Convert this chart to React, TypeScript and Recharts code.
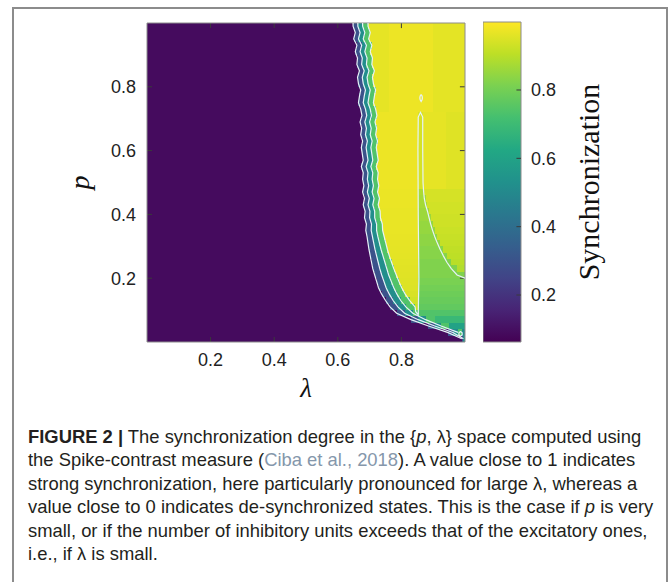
import React from "react";
import {
  ScatterChart,
  Scatter,
  XAxis,
  YAxis,
  ReferenceArea,
  ReferenceLine,
  Label,
} from "recharts";

// heatmap rows (lower edge of each p-row, height 0.02), top to bottom
const P_ROWS = [
  0.98, 0.96, 0.94, 0.92, 0.9, 0.88, 0.86, 0.84, 0.82, 0.8,
  0.78, 0.76, 0.74, 0.72, 0.7, 0.68, 0.66, 0.64, 0.62, 0.6,
  0.58, 0.56, 0.54, 0.52, 0.5, 0.48, 0.46, 0.44, 0.42, 0.4,
  0.38, 0.36, 0.34, 0.32, 0.3, 0.28, 0.26, 0.24, 0.22, 0.2,
  0.18, 0.16, 0.14, 0.12, 0.1, 0.08, 0.06, 0.04, 0.02, 0.0,
];

// lambda where each row leaves the de-synchronized region (outer contour)
const EDGE_1 = [
  0.648, 0.655, 0.65, 0.66, 0.655, 0.662, 0.66, 0.668, 0.662, 0.665,
  0.672, 0.668, 0.665, 0.672, 0.676, 0.67, 0.675, 0.672, 0.678, 0.674,
  0.677, 0.68, 0.674, 0.68, 0.678, 0.682, 0.678, 0.684, 0.68, 0.686,
  0.684, 0.69, 0.688, 0.692, 0.695, 0.698, 0.702, 0.706, 0.71, 0.716,
  0.722, 0.728, 0.738, 0.75, 0.764, 0.785, 0.83, 0.885, 0.945, 0.99,
];
const EDGE_2 = [
  0.663, 0.67, 0.665, 0.675, 0.67, 0.677, 0.675, 0.683, 0.677, 0.68,
  0.687, 0.683, 0.68, 0.687, 0.691, 0.685, 0.69, 0.687, 0.693, 0.689,
  0.692, 0.695, 0.689, 0.695, 0.693, 0.697, 0.693, 0.699, 0.695, 0.701,
  0.7, 0.706, 0.705, 0.709, 0.713, 0.717, 0.722, 0.727, 0.732, 0.738,
  0.745, 0.752, 0.762, 0.774, 0.789, 0.81, 0.853, 0.905, 0.962, 0.995,
];
const EDGE_3 = [
  0.678, 0.685, 0.68, 0.69, 0.685, 0.692, 0.69, 0.698, 0.692, 0.695,
  0.702, 0.698, 0.695, 0.702, 0.706, 0.7, 0.705, 0.702, 0.708, 0.704,
  0.707, 0.71, 0.704, 0.71, 0.708, 0.712, 0.708, 0.714, 0.71, 0.716,
  0.716, 0.722, 0.722, 0.726, 0.731, 0.736, 0.742, 0.748, 0.754, 0.76,
  0.768, 0.776, 0.786, 0.798, 0.814, 0.836, 0.876, 0.925, 0.978, 1.0,
];
// start of the strongly synchronized (yellow) zone
const EDGE_4 = [
  0.695, 0.702, 0.697, 0.707, 0.702, 0.709, 0.707, 0.715, 0.709, 0.712,
  0.719, 0.715, 0.712, 0.719, 0.723, 0.717, 0.722, 0.719, 0.725, 0.721,
  0.724, 0.727, 0.721, 0.727, 0.725, 0.729, 0.725, 0.731, 0.727, 0.733,
  0.734, 0.74, 0.741, 0.746, 0.751, 0.756, 0.762, 0.769, 0.776, 0.784,
  0.792, 0.801, 0.812, 0.826, 0.843, 0.866, 0.905, 0.95, 0.992, 1.0,
];
// value in background, and between edges 1-2, 2-3, 3-4
const BAND_VALUES = [0.09, 0.3, 0.52, 0.74];

// [lambda end, value] segments right of EDGE_4
const TOP_TAIL: [number, number][] = [[0.76, 0.965], [0.9, 0.975], [1, 0.962]];
const STRIPE_TAIL: [number, number][] = [[0.853, 0.975], [0.867, 0.94], [0.94, 0.965], [1, 0.955]];
const TAILS: [number, number][][] = [
  TOP_TAIL, TOP_TAIL, TOP_TAIL, TOP_TAIL, TOP_TAIL, TOP_TAIL, TOP_TAIL,
  TOP_TAIL, TOP_TAIL, TOP_TAIL, TOP_TAIL, TOP_TAIL, TOP_TAIL, TOP_TAIL,
  STRIPE_TAIL, STRIPE_TAIL, STRIPE_TAIL, STRIPE_TAIL, STRIPE_TAIL, STRIPE_TAIL,
  STRIPE_TAIL, STRIPE_TAIL, STRIPE_TAIL, STRIPE_TAIL, STRIPE_TAIL, STRIPE_TAIL,
  [[0.853, 0.972], [0.872, 0.88], [1, 0.94]],
  [[0.853, 0.972], [0.876, 0.87], [1, 0.94]],
  [[0.853, 0.972], [0.882, 0.87], [1, 0.935]],
  [[0.853, 0.97], [0.887, 0.86], [1, 0.935]],
  [[0.853, 0.97], [0.892, 0.86], [1, 0.93]],
  [[0.853, 0.97], [0.898, 0.85], [1, 0.93]],
  [[0.853, 0.97], [0.905, 0.85], [1, 0.925]],
  [[0.853, 0.968], [0.913, 0.84], [1, 0.92]],
  [[0.853, 0.966], [0.922, 0.84], [1, 0.915]],
  [[0.853, 0.964], [0.932, 0.83], [1, 0.91]],
  [[0.853, 0.962], [0.943, 0.83], [1, 0.905]],
  [[0.853, 0.96], [0.957, 0.82], [1, 0.9]],
  [[0.853, 0.958], [0.975, 0.82], [1, 0.89]],
  [[0.853, 0.956], [1, 0.82]],
  [[0.853, 0.954], [1, 0.81]],
  [[0.853, 0.95], [1, 0.8]],
  [[0.853, 0.945], [1, 0.79]],
  [[0.853, 0.935], [1, 0.78]],
  [[0.853, 0.92], [1, 0.77]],
  [[1, 0.74]],
  [[1, 0.69]],
  [[1, 0.6]],
  [[1, 0.5]],
  [],
];

// inner contour around the yellow zone: stripe at lambda ~0.86 and right edge
const STRIPE_LOOP = [
  { x: 0.845, y: 0.095 }, { x: 0.853, y: 0.085 }, { x: 0.855, y: 0.2 },
  { x: 0.853, y: 0.4 }, { x: 0.852, y: 0.6 }, { x: 0.853, y: 0.705 },
  { x: 0.86, y: 0.72 }, { x: 0.867, y: 0.705 }, { x: 0.867, y: 0.6 },
  { x: 0.868, y: 0.5 }, { x: 0.87, y: 0.47 }, { x: 0.872, y: 0.45 },
  { x: 0.876, y: 0.43 }, { x: 0.882, y: 0.41 }, { x: 0.887, y: 0.39 },
  { x: 0.892, y: 0.37 }, { x: 0.898, y: 0.35 }, { x: 0.905, y: 0.33 },
  { x: 0.913, y: 0.31 }, { x: 0.922, y: 0.29 }, { x: 0.932, y: 0.27 },
  { x: 0.943, y: 0.25 }, { x: 0.957, y: 0.23 }, { x: 0.975, y: 0.21 },
  { x: 1.0, y: 0.2 },
];
const SPOT_1 = [
  { x: 0.862, y: 0.776 }, { x: 0.865, y: 0.771 }, { x: 0.866, y: 0.765 },
  { x: 0.865, y: 0.759 }, { x: 0.862, y: 0.754 }, { x: 0.859, y: 0.759 },
  { x: 0.858, y: 0.765 }, { x: 0.859, y: 0.771 }, { x: 0.862, y: 0.776 },
];
const SPOT_2 = [
  { x: 0.986, y: 0.033 }, { x: 0.991, y: 0.029 }, { x: 0.991, y: 0.022 },
  { x: 0.986, y: 0.018 }, { x: 0.981, y: 0.022 }, { x: 0.981, y: 0.029 },
  { x: 0.986, y: 0.033 },
];

const AXIS_TICKS = [0.2, 0.4, 0.6, 0.8];
const CBAR_TICKS = [0.2, 0.4, 0.6, 0.8];
const C_MIN = 0.0625;
const C_MAX = 0.999;

const VIRIDIS = [
  "#440154", "#482475", "#414487", "#355f8d", "#2a788e", "#21918c",
  "#22a884", "#44bf70", "#7ad151", "#bddf26", "#fde725",
];

function hexToRgb(h: string) {
  return [1, 3, 5].map((i) => parseInt(h.slice(i, i + 2), 16));
}

function viridis(v: number) {
  let t = (v - C_MIN) / (C_MAX - C_MIN);
  t = Math.max(0, Math.min(1, t));
  const pos = t * (VIRIDIS.length - 1);
  const i = Math.min(Math.floor(pos), VIRIDIS.length - 2);
  const f = pos - i;
  const a = hexToRgb(VIRIDIS[i]);
  const b = hexToRgb(VIRIDIS[i + 1]);
  const c = a.map((av, k) => Math.round(av + (b[k] - av) * f));
  return `rgb(${c[0]},${c[1]},${c[2]})`;
}

function buildCells() {
  const cells: { x1: number; x2: number; y1: number; y2: number; fill: string }[] = [];
  P_ROWS.forEach((p0, i) => {
    const segs: [number, number][] = [
      [EDGE_2[i], BAND_VALUES[1]],
      [EDGE_3[i], BAND_VALUES[2]],
      [EDGE_4[i], BAND_VALUES[3]],
      ...TAILS[i],
    ];
    let start = EDGE_1[i];
    segs.forEach(([end, v]) => {
      if (end > start) {
        cells.push({ x1: start, x2: end, y1: p0, y2: p0 + 0.02, fill: viridis(v) });
        start = end;
      }
    });
  });
  return cells;
}

const rowPoints = (edge: number[]) =>
  P_ROWS.map((p0, i) => ({ x: edge[i], y: p0 + 0.01 }));

const CONTOURS = [
  [{ x: EDGE_1[0], y: 1 }, ...rowPoints(EDGE_1)],
  [{ x: EDGE_2[0], y: 1 }, ...rowPoints(EDGE_2)],
  [{ x: EDGE_3[0], y: 1 }, ...rowPoints(EDGE_3).filter((d) => d.x < 1)],
  [{ x: EDGE_4[0], y: 1 }, ...rowPoints(EDGE_4).slice(0, 45), ...STRIPE_LOOP],
  SPOT_1,
  SPOT_2,
];

const NoDot = () => <g />;
const TICK_LEN = 0.016;
const FRAME = "#8c8c8c";
const TICK_COLOR = "#3a3a3a";
const TEXT = "#222";
const SANS = "'Liberation Sans', Arial, sans-serif";
const SERIF = "'Liberation Serif', 'Times New Roman', serif";

function HeatmapChart() {
  const cells = buildCells();
  return (
    <ScatterChart width={480} height={420} margin={{ top: 23, right: 15, bottom: 48, left: 67 }}>
      <XAxis
        type="number"
        dataKey="x"
        domain={[0, 1]}
        ticks={AXIS_TICKS}
        allowDataOverflow
        axisLine={false}
        tickLine={false}
        tickSize={0}
        tickMargin={11}
        height={30}
        tick={{ fontSize: 18, fill: TEXT, fontFamily: SANS }}
      >
        <Label value="λ" position="bottom" offset={6} style={{ fontSize: 27, fontFamily: SERIF, fontStyle: "italic", fill: "#111" }} />
      </XAxis>
      <YAxis
        type="number"
        dataKey="y"
        domain={[0, 1]}
        ticks={AXIS_TICKS}
        allowDataOverflow
        axisLine={false}
        tickLine={false}
        tickSize={0}
        tickMargin={11}
        width={80}
        tick={{ fontSize: 18, fill: TEXT, fontFamily: SANS }}
      >
        <Label value="p" angle={-90} position="insideLeft" offset={12} textAnchor="middle" style={{ fontSize: 28, fontFamily: SERIF, fontStyle: "italic", fill: "#111" }} />
      </YAxis>
      <ReferenceArea x1={0} x2={1} y1={0} y2={1} fill={viridis(BAND_VALUES[0])} fillOpacity={1} ifOverflow="visible" />
      {cells.map((c, i) => (
        <ReferenceArea
          key={i}
          x1={c.x1}
          x2={c.x2}
          y1={c.y1}
          y2={c.y2}
          fill={c.fill}
          fillOpacity={1}
          stroke="none"
          shapeRendering="crispEdges"
          ifOverflow="visible"
        />
      ))}
      {CONTOURS.map((d, i) => (
        <Scatter
          key={i}
          data={d}
          shape={NoDot}
          line={{ stroke: "#e6f2f8", strokeWidth: 1.2 }}
          lineType="joint"
          isAnimationActive={false}
          legendType="none"
        />
      ))}
      {AXIS_TICKS.map((t) => (
        <ReferenceLine key={`b${t}`} segment={[{ x: t, y: 0 }, { x: t, y: TICK_LEN }]} stroke={TICK_COLOR} />
      ))}
      {AXIS_TICKS.map((t) => (
        <ReferenceLine key={`t${t}`} segment={[{ x: t, y: 1 }, { x: t, y: 1 - TICK_LEN }]} stroke={TICK_COLOR} />
      ))}
      {AXIS_TICKS.map((t) => (
        <ReferenceLine key={`l${t}`} segment={[{ x: 0, y: t }, { x: TICK_LEN, y: t }]} stroke={TICK_COLOR} />
      ))}
      {AXIS_TICKS.map((t) => (
        <ReferenceLine key={`r${t}`} segment={[{ x: 1, y: t }, { x: 1 - TICK_LEN, y: t }]} stroke={TICK_COLOR} />
      ))}
      <ReferenceLine x={0} stroke={FRAME} />
      <ReferenceLine x={1} stroke={FRAME} />
      <ReferenceLine y={0} stroke={FRAME} />
      <ReferenceLine y={1} stroke={FRAME} />
    </ScatterChart>
  );
}

// two invisible anchor points so the colour bar axes get a domain
const CBAR_ANCHORS = [{ x: 0, y: C_MIN }, { x: 1, y: C_MAX }];

function ColorBar() {
  return (
    <ScatterChart width={140} height={400} margin={{ top: 22, right: 22, bottom: 58, left: 0 }}>
      <defs>
        <linearGradient id="viridisBar" x1="0" y1="1" x2="0" y2="0">
          {VIRIDIS.map((c, i) => (
            <stop key={i} offset={`${(i / (VIRIDIS.length - 1)) * 100}%`} stopColor={c} />
          ))}
        </linearGradient>
      </defs>
      <XAxis type="number" dataKey="x" domain={[0, 1]} hide />
      <YAxis
        type="number"
        dataKey="y"
        orientation="right"
        domain={[C_MIN, C_MAX]}
        ticks={CBAR_TICKS}
        allowDataOverflow
        axisLine={false}
        tickLine={false}
        tickSize={0}
        tickMargin={10}
        width={80}
        tick={{ fontSize: 18, fill: TEXT, fontFamily: SANS }}
      >
        <Label value="Synchronization" angle={-90} position="insideRight" offset={13} textAnchor="middle" style={{ fontSize: 30, fontFamily: SERIF, fill: "#111" }} />
      </YAxis>
      <Scatter data={CBAR_ANCHORS} shape={NoDot} isAnimationActive={false} legendType="none" />
      <ReferenceArea x1={0} x2={1} y1={C_MIN} y2={C_MAX} fill="url(#viridisBar)" fillOpacity={1} stroke={FRAME} ifOverflow="visible" />
      {CBAR_TICKS.map((t) => (
        <ReferenceLine key={t} segment={[{ x: 0.88, y: t }, { x: 1, y: t }]} stroke={TICK_COLOR} />
      ))}
    </ScatterChart>
  );
}

const CAPTION_LINES: React.ReactNode[] = [
  <>
    <b>FIGURE 2 |</b> The synchronization degree in the {"{"}<i>p</i>, λ{"}"} space computed using
  </>,
  <>
    the Spike-contrast measure (<span style={{ color: "#8597ab" }}>Ciba et al., 2018</span>). A value close to 1 indicates
  </>,
  <>strong synchronization, here particularly pronounced for large λ, whereas a</>,
  <>
    value close to 0 indicates de-synchronized states. This is the case if <i>p</i> is very
  </>,
  <>small, or if the number of inhibitory units exceeds that of the excitatory ones,</>,
  <>i.e., if λ is small.</>,
];

export default function App() {
  return (
    <div style={{ position: "absolute", left: 0, top: 0, width: 670, height: 582, overflow: "hidden", background: "#fff" }}>
      <div
        style={{
          position: "absolute",
          left: 12,
          top: 7,
          width: 652,
          height: 580,
          borderTop: `2px solid ${FRAME}`,
          borderLeft: `2px solid ${FRAME}`,
          borderRight: `2px solid ${FRAME}`,
        }}
      />
      <div style={{ position: "absolute", left: 0, top: 0 }}>
        <HeatmapChart />
      </div>
      <div style={{ position: "absolute", left: 483, top: 0 }}>
        <ColorBar />
      </div>
      <div
        style={{
          position: "absolute",
          left: 28,
          top: 425,
          fontFamily: SANS,
          fontSize: 18.4,
          lineHeight: "23.4px",
          color: "#231f20",
          whiteSpace: "nowrap",
        }}
      >
        {CAPTION_LINES.map((l, i) => (
          <div key={i}>{l}</div>
        ))}
      </div>
    </div>
  );
}
